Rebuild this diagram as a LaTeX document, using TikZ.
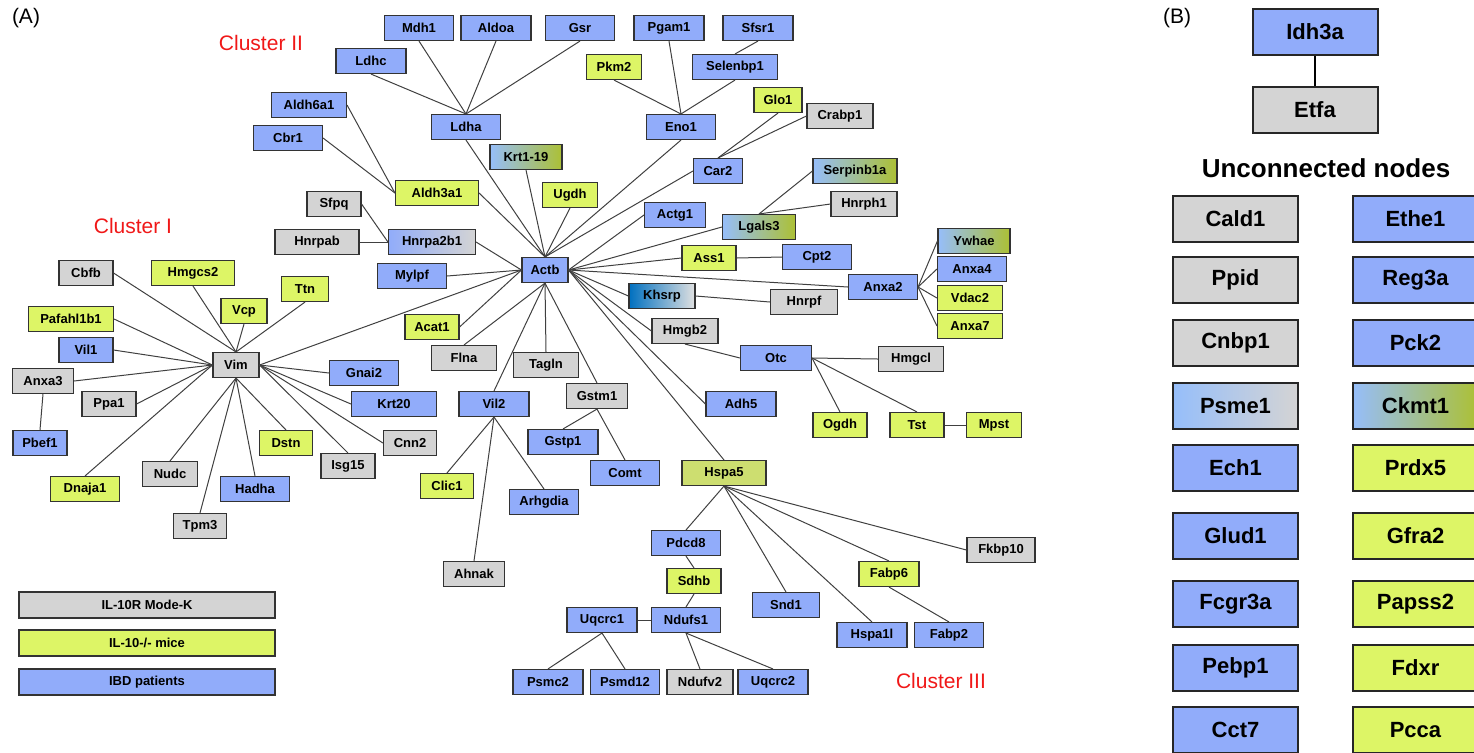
\documentclass[tikz,border=0pt]{standalone}
\usepackage{fontspec}
\setmainfont{Liberation Sans}
\definecolor{genblue}{RGB}{145,172,250}
\definecolor{mixblue}{RGB}{150,190,250}
\definecolor{genlime}{RGB}{221,245,102}
\definecolor{gengray}{RGB}{212,212,212}
\definecolor{genolive}{RGB}{172,192,52}
\definecolor{hspcol}{RGB}{205,222,112}
\definecolor{khblue}{RGB}{0,112,192}
\definecolor{clred}{RGB}{240,24,24}
\tikzset{
  gene/.style={draw=black!80, line width=0.55pt, inner sep=0pt, minimum height=12.5pt,
    font=\bfseries\fontsize{6.5}{7}\selectfont},
  wd/.style={minimum width=#1*0.5pt},
  gry/.style={gene, fill=gengray},
  lim/.style={gene, fill=genlime},
  blu/.style={gene, fill=genblue},
  mix/.style={gene, left color=mixblue, right color=genolive},
  link/.style={draw=black!75, line width=0.5pt},
  ubox/.style={draw=black!85, line width=1pt, inner sep=0pt, minimum width=62.5pt,
    minimum height=23pt, font=\bfseries\fontsize{11}{13}\selectfont},
  clab/.style={text=clred, font=\fontsize{10.5}{12}\selectfont},
}
\begin{document}
\begin{tikzpicture}[x=0.5pt,y=-0.5pt]
  \useasboundingbox (0,0) rectangle (1474,752);
  \node[font=\fontsize{10.5}{12}\selectfont] (pa) at (26,18) {(A)};
  \node[font=\fontsize{10.5}{12}\selectfont] (pb) at (1177,18) {(B)};
  \node[clab] (c1) at (133,226) {Cluster I};
  \node[clab] (c2) at (261,43) {Cluster II};
  \node[clab] (c3) at (941,681) {Cluster III};

  % cluster II
  \node[blu, wd=69] (mdh1) at (419,28) {Mdh1};
  \node[blu, wd=70] (aldoa) at (496,28) {Aldoa};
  \node[blu, wd=69] (gsr) at (580,28) {Gsr};
  \node[blu, wd=70] (pgam1) at (669,28) {Pgam1};
  \node[blu, wd=70] (sfsr1) at (758,28) {Sfsr1};
  \node[blu, wd=70] (ldhc) at (371,61) {Ldhc};
  \node[lim, wd=55] (pkm2) at (614,67) {Pkm2};
  \node[blu, wd=85] (selenbp1) at (735,67) {Selenbp1};
  \node[lim, wd=48] (glo1) at (778,100) {Glo1};
  \node[blu, wd=75] (aldh6a1) at (309,105) {Aldh6a1};
  \node[gry, wd=66] (crabp1) at (840,116) {Crabp1};
  \node[blu, wd=69] (ldha) at (466,127) {Ldha};
  \node[blu, wd=69] (eno1) at (681,127) {Eno1};
  \node[blu, wd=69] (cbr1) at (288,138) {Cbr1};
  \node[mix, wd=72] (krt119) at (526,157) {Krt1-19};
  \node[blu, wd=49] (car2) at (718,171) {Car2};
  \node[mix, wd=84] (serpinb1a) at (855,171) {Serpinb1a};
  \node[lim, wd=83] (aldh3a1) at (437,193) {Aldh3a1};
  \node[lim, wd=55] (ugdh) at (570,195) {Ugdh};
  \node[gry, wd=54] (sfpq) at (334,204) {Sfpq};
  \node[gry, wd=66] (hnrph1) at (864,204) {Hnrph1};
  \node[blu, wd=61] (actg1) at (675,215) {Actg1};
  \node[mix, wd=73] (lgals3) at (759,227) {Lgals3};
  \node[gry, wd=84] (hnrpab) at (317,242) {Hnrpab};
  \node[gene, left color=genblue, right color=gengray, wd=87] (hnrpa2b1) at (432,242) {Hnrpa2b1};
  \node[mix, wd=72] (ywhae) at (974,241) {Ywhae};
  \node[blu, wd=69] (cpt2) at (817,257) {Cpt2};
  \node[lim, wd=54] (ass1) at (709,258) {Ass1};
  \node[blu, wd=46] (actb) at (545,270) {Actb};
  \node[blu, wd=69] (anxa4) at (972,269) {Anxa4};
  \node[blu, wd=69] (mylpf) at (412,276) {Mylpf};
  \node[blu, wd=69] (anxa2) at (883,287) {Anxa2};
  \node[gene, left color=khblue, right color=gengray!70!white, wd=66] (khsrp) at (662,296) {Khsrp};
  \node[lim, wd=65] (vdac2) at (970,298) {Vdac2};
  \node[gry, wd=67] (hnrpf) at (804,302) {Hnrpf};
  \node[lim, wd=54] (acat1) at (432,327) {Acat1};
  \node[lim, wd=65] (anxa7) at (970,326) {Anxa7};
  \node[gry, wd=66] (hmgb2) at (685,331) {Hmgb2};
  \node[gry, wd=65] (flna) at (464,358) {Flna};
  \node[blu, wd=71] (otc) at (776,358) {Otc};
  \node[gry, wd=65] (hmgcl) at (911,359) {Hmgcl};
  \node[gry, wd=65] (tagln) at (546,365) {Tagln};
  \node[gry, wd=61] (gstm1) at (597,396) {Gstm1};
  \node[blu, wd=70] (vil2) at (494,404) {Vil2};
  \node[blu, wd=70] (adh5) at (741,404) {Adh5};
  \node[lim, wd=54] (ogdh) at (840,425) {Ogdh};
  \node[lim, wd=54] (tst) at (917,425) {Tst};
  \node[lim, wd=55] (mpst) at (994,425) {Mpst};
  \node[blu, wd=70] (gstp1) at (563,442) {Gstp1};
  \node[blu, wd=69] (comt) at (625,473) {Comt};
  \node[gene, fill=hspcol, wd=84] (hspa5) at (724,473) {Hspa5};
  \node[lim, wd=53] (clic1) at (447,486) {Clic1};
  \node[blu, wd=69] (arhgdia) at (544,502) {Arhgdia};
  \node[blu, wd=69] (pdcd8) at (686,543) {Pdcd8};
  \node[gry, wd=68] (fkbp10) at (1001,550) {Fkbp10};
  \node[gry, wd=61] (ahnak) at (474,574) {Ahnak};
  \node[lim, wd=60] (fabp6) at (889,574) {Fabp6};
  \node[lim, wd=54] (sdhb) at (694,581) {Sdhb};
  \node[blu, wd=67] (snd1) at (786,605) {Snd1};
  \node[blu, wd=70] (uqcrc1) at (602,620) {Uqcrc1};
  \node[blu, wd=69] (ndufs1) at (686,620) {Ndufs1};
  \node[blu, wd=70] (hspa1l) at (872,635) {Hspa1l};
  \node[blu, wd=69] (fabp2) at (949,635) {Fabp2};
  \node[blu, wd=70] (psmc2) at (548,682) {Psmc2};
  \node[blu, wd=69] (psmd12) at (625,682) {Psmd12};
  \node[gry, wd=66] (ndufv2) at (700,682) {Ndufv2};
  \node[blu, wd=70] (uqcrc2) at (773,682) {Uqcrc2};

  % cluster I
  \node[gry, wd=54] (cbfb) at (86,273) {Cbfb};
  \node[lim, wd=83] (hmgcs2) at (193,273) {Hmgcs2};
  \node[lim, wd=47] (ttn) at (305,289) {Ttn};
  \node[lim, wd=46] (vcp) at (244,311) {Vcp};
  \node[lim, wd=85] (pafah) at (71,319) {Pafahl1b1};
  \node[blu, wd=54] (vil1) at (86,350) {Vil1};
  \node[gry, wd=46] (vim) at (236,365) {Vim};
  \node[gry, wd=61] (anxa3) at (43,381) {Anxa3};
  \node[blu, wd=69] (gnai2) at (364,373) {Gnai2};
  \node[gry, wd=54] (ppa1) at (109,404) {Ppa1};
  \node[blu, wd=85] (krt20) at (394,404) {Krt20};
  \node[blu, wd=54] (pbef1) at (40,443) {Pbef1};
  \node[lim, wd=53] (dstn) at (286,443) {Dstn};
  \node[gry, wd=53] (cnn2) at (410,443) {Cnn2};
  \node[gry, wd=54] (isg15) at (348,466) {Isg15};
  \node[gry, wd=55] (nudc) at (170,474) {Nudc};
  \node[lim, wd=69] (dnaja1) at (85,489) {Dnaja1};
  \node[blu, wd=69] (hadha) at (255,489) {Hadha};
  \node[gry, wd=53] (tpm3) at (200,526) {Tpm3};

  % legend
  \node[gry, wd=256, minimum height=13pt] (leg1) at (147,605) {IL-10R Mode-K};
  \node[lim, wd=256, minimum height=13pt] (leg2) at (147,643) {IL-10-/- mice};
  \node[blu, wd=256, minimum height=13pt] (leg3) at (147,682) {IBD patients};

  % edges, cluster II
  \foreach \g in {ldhc,mdh1,aldoa,gsr} \draw[link] (\g.south) -- (ldha.north);
  \foreach \g in {pkm2,pgam1,selenbp1} \draw[link] (\g.south) -- (eno1.north);
  \draw[link] (sfsr1.south) -- (selenbp1.north);
  \draw[link] (glo1.south) -- (car2.north);
  \draw[link] (crabp1.west) -- (car2.north);
  \foreach \g in {aldh6a1,cbr1} \draw[link] (\g.east) -- (aldh3a1.west);
  \foreach \g in {sfpq,hnrpab} \draw[link] (\g.east) -- (hnrpa2b1.west);
  \foreach \g in {serpinb1a,hnrph1} \draw[link] (\g.west) -- (lgals3.north);
  \foreach \g in {ldha,krt119,ugdh,eno1} \draw[link] (\g.south) -- (actb.north);
  \draw[link] (aldh3a1.east) -- (actb.north);
  \draw[link] (car2.west) -- (actb.north);
  \foreach \g in {actg1,lgals3,ass1,anxa2,khsrp,hmgb2,adh5} \draw[link] (\g.west) -- (actb.east);
  \draw[link] (hspa5.north) -- (actb.east);
  \foreach \g in {hnrpa2b1,mylpf,acat1,vim} \draw[link] (\g.east) -- (actb.west);
  \foreach \g in {flna,tagln,vil2,gstm1} \draw[link] (\g.north) -- (actb.south);
  \draw[link] (ass1.east) -- (cpt2.west);
  \foreach \g in {ywhae,anxa4,vdac2,anxa7} \draw[link] (anxa2.east) -- (\g.west);
  \draw[link] (khsrp.east) -- (hnrpf.west);
  \draw[link] (hmgb2.south) -- (otc.west);
  \draw[link] (otc.east) -- (hmgcl.west);
  \foreach \g in {ogdh,tst} \draw[link] (otc.east) -- (\g.north);
  \draw[link] (tst.east) -- (mpst.west);
  \foreach \g in {gstp1,comt} \draw[link] (gstm1.south) -- (\g.north);
  \foreach \g in {clic1,arhgdia,ahnak} \draw[link] (vil2.south) -- (\g.north);
  \foreach \g in {pdcd8,snd1,hspa1l,fabp6} \draw[link] (hspa5.south) -- (\g.north);
  \draw[link] (hspa5.south) -- (fkbp10.west);
  \draw[link] (pdcd8.south) -- (sdhb.north);
  \draw[link] (sdhb.south) -- (ndufs1.north);
  \draw[link] (ndufs1.west) -- (uqcrc1.east);
  \foreach \g in {psmc2,psmd12} \draw[link] (uqcrc1.south) -- (\g.north);
  \foreach \g in {ndufv2,uqcrc2} \draw[link] (ndufs1.south) -- (\g.north);
  \draw[link] (fabp6.south) -- (fabp2.north);

  % edges, cluster I
  \draw[link] (cbfb.east) -- (vim.north);
  \foreach \g in {hmgcs2,vcp,ttn} \draw[link] (\g.south) -- (vim.north);
  \foreach \g in {pafah,vil1,anxa3,ppa1} \draw[link] (\g.east) -- (vim.west);
  \draw[link] (dnaja1.north) -- (vim.west);
  \foreach \g in {nudc,tpm3,hadha,dstn} \draw[link] (\g.north) -- (vim.south);
  \draw[link] (isg15.north) -- (vim.east);
  \foreach \g in {gnai2,krt20,cnn2} \draw[link] (\g.west) -- (vim.east);
  \draw[link] (anxa3.south) -- (pbef1.north);

  % panel B
  \node[ubox, fill=genblue] (idh3a) at (1315,32) {Idh3a};
  \node[ubox, fill=gengray] (etfa) at (1315,110) {Etfa};
  \draw[line width=1pt] (idh3a.south) -- (etfa.north);
  \node[font=\bfseries\fontsize{13}{15}\selectfont] (unc) at (1326,168) {Unconnected nodes};
  \foreach \n/\y in {Cald1/219,Ppid/280,Cnbp1/343}
    \node[ubox, fill=gengray] (\n) at (1235.5,\y) {\n};
  \node[ubox, left color=mixblue, right color=gengray] (Psme1) at (1235.5,406) {Psme1};
  \foreach \n/\y in {Ech1/468,Glud1/536,Fcgr3a/604,Pebp1/668,Cct7/730}
    \node[ubox, fill=genblue] (\n) at (1235.5,\y) {\n};
  \foreach \n/\y in {Ethe1/219,Reg3a/280,Pck2/343}
    \node[ubox, fill=genblue] (\n) at (1415.5,\y) {\n};
  \node[ubox, left color=mixblue, middle color=mixblue!55!genolive, right color=genolive] (Ckmt1) at (1415.5,406) {Ckmt1};
  \foreach \n/\y in {Prdx5/468,Gfra2/536,Papss2/604,Fdxr/668,Pcca/730}
    \node[ubox, fill=genlime] (\n) at (1415.5,\y) {\n};
\end{tikzpicture}
\end{document}
